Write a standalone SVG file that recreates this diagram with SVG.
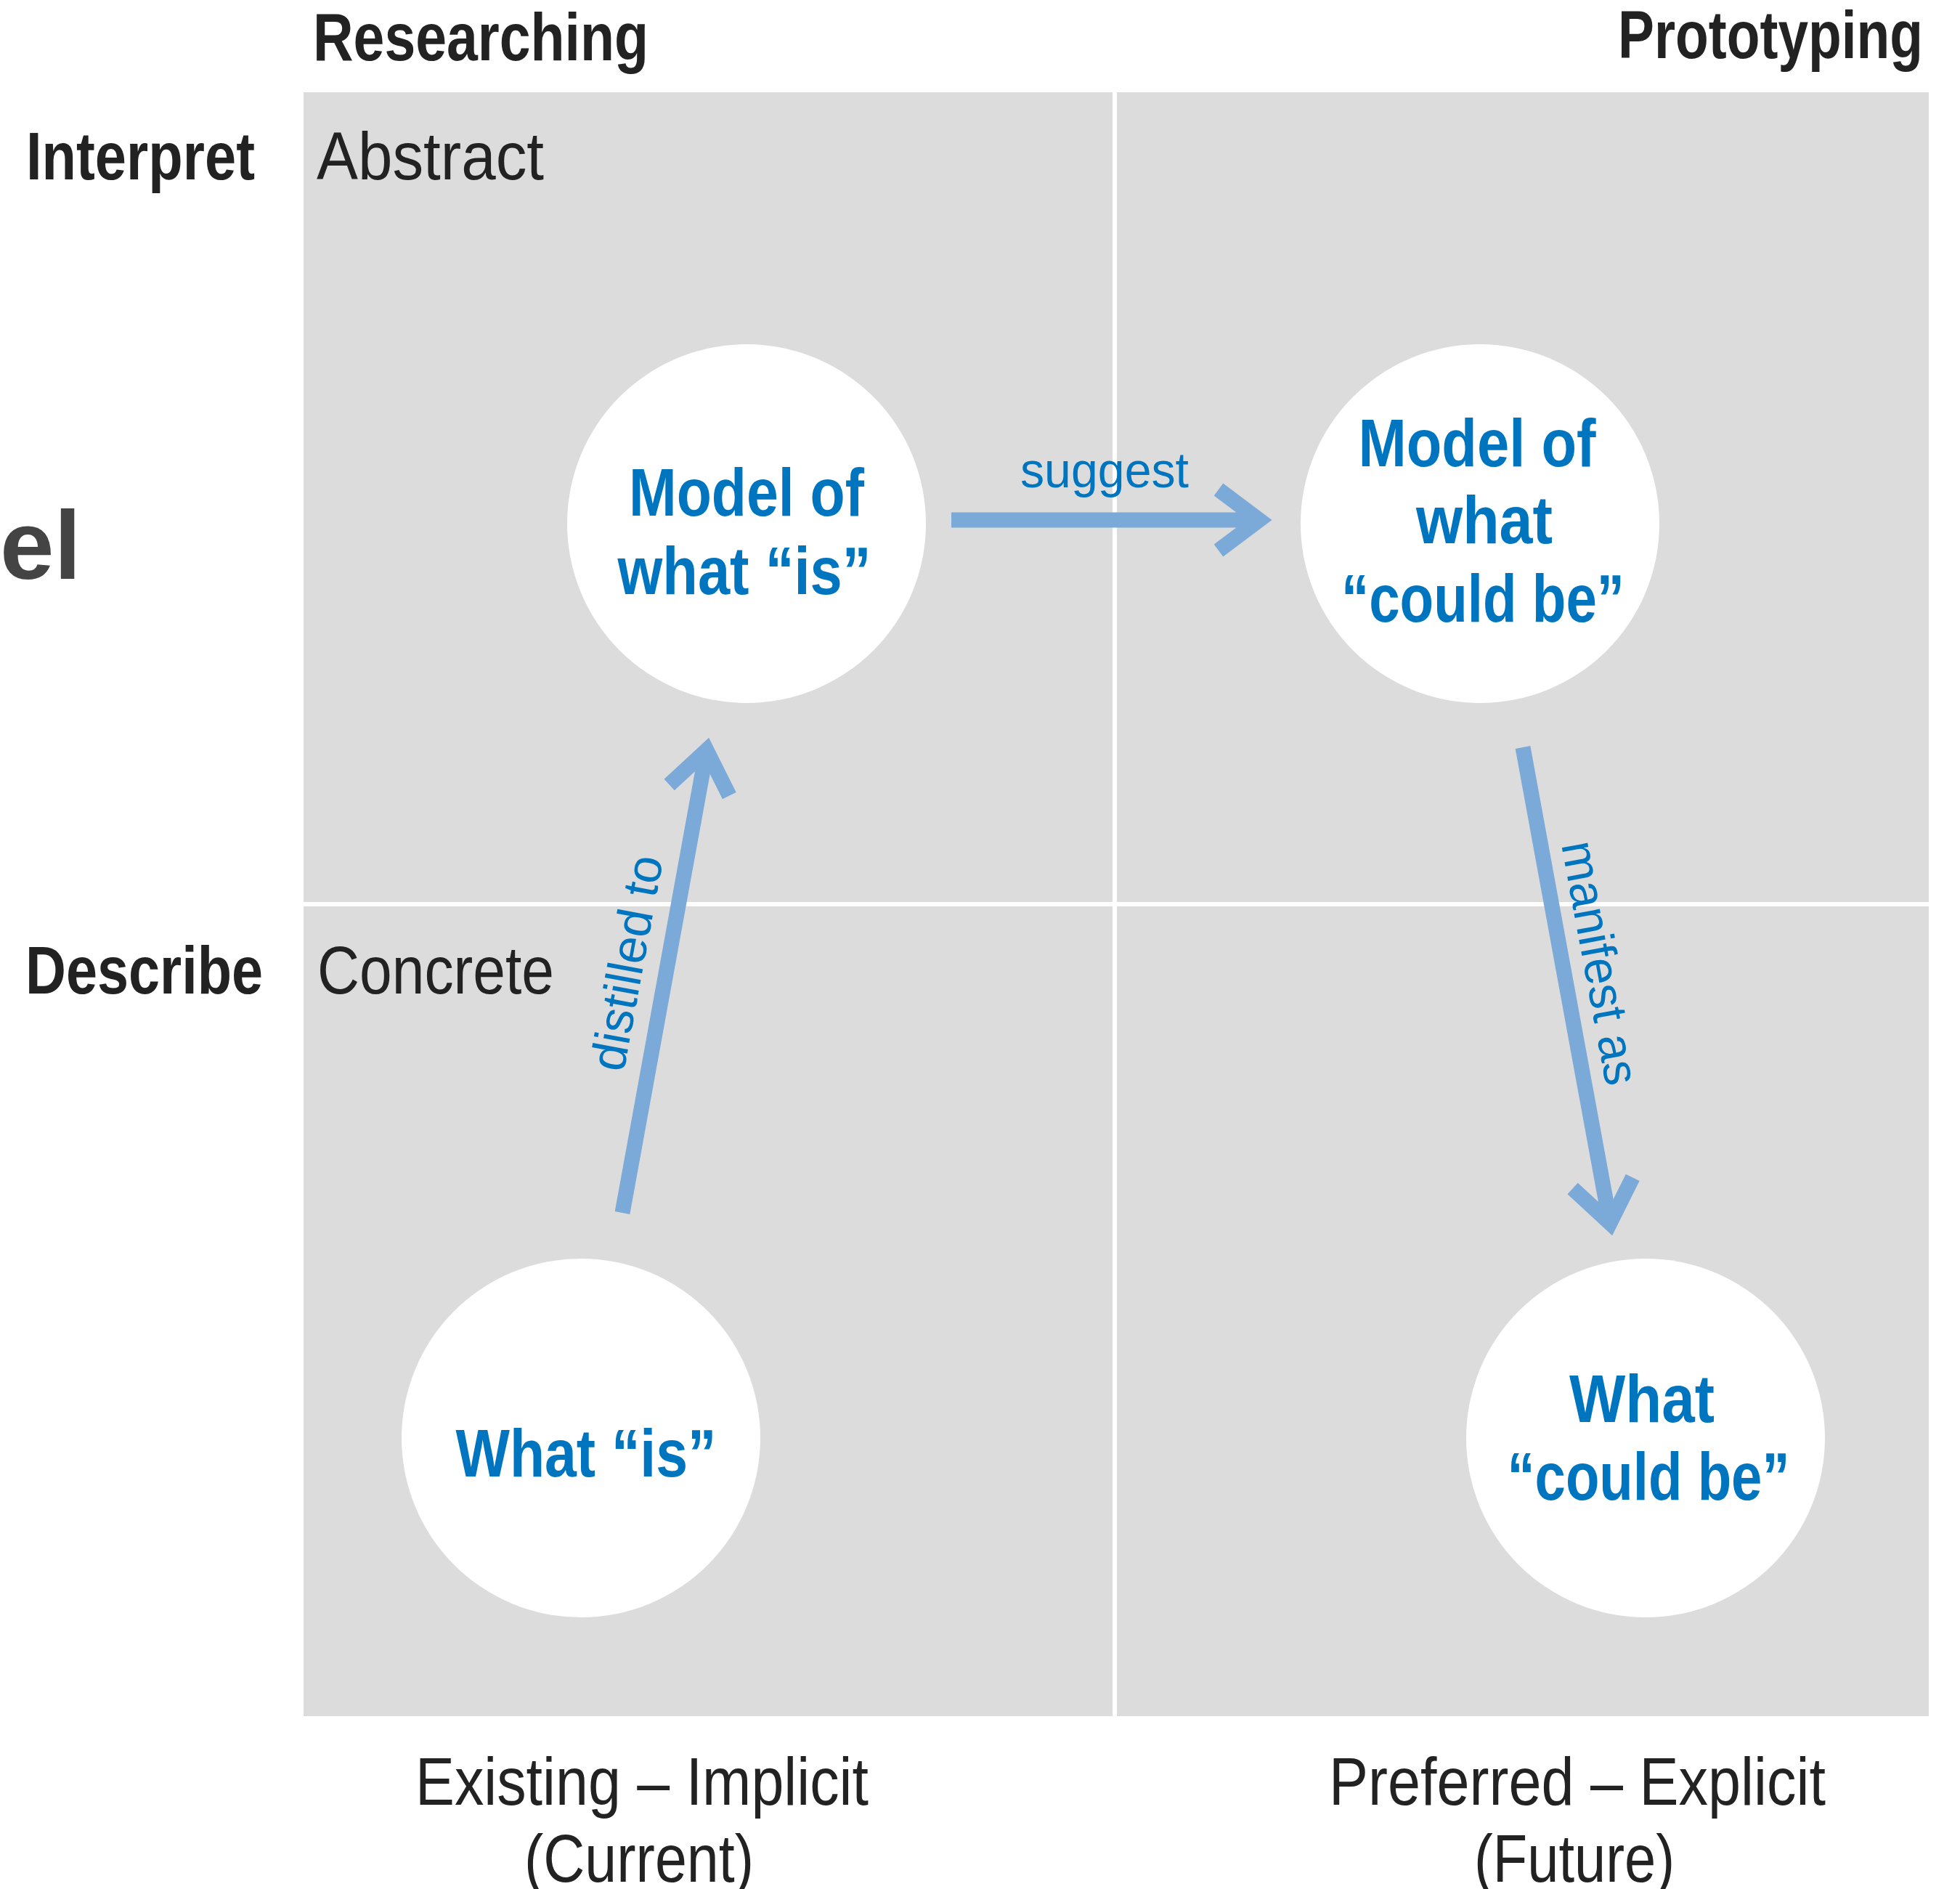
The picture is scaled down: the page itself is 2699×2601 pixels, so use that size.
<svg xmlns="http://www.w3.org/2000/svg" width="2699" height="2601" viewBox="0 0 2699 2601">
<style>
.hdr{font-family:"Liberation Sans",Arial,sans-serif;font-weight:bold;fill:#222;font-size:92px}
.reg{font-family:"Liberation Sans",Arial,sans-serif;fill:#222;font-size:92px}
.node{font-family:"Liberation Sans",Arial,sans-serif;font-weight:bold;fill:#0075BF;font-size:93px;text-anchor:middle}
.lbl{font-family:"Liberation Sans",Arial,sans-serif;fill:#0075BF;font-size:68px;text-anchor:middle}
.circ{fill:#ffffff}
.shaft{stroke:#7BA9D8;stroke-width:21;fill:none}
</style>
<defs>
<marker id="chev" markerUnits="userSpaceOnUse" orient="auto" refX="0" refY="0" markerWidth="200" markerHeight="200" viewBox="-100 -100 200 200" overflow="visible">
<polyline points="-56,-42 0,0 -56,42" fill="none" stroke="#7BA9D8" stroke-width="21" stroke-linejoin="miter" stroke-miterlimit="10"/>
</marker>
</defs>
<rect width="2699" height="2601" fill="#ffffff"/>
<g id="grid">
<rect x="418" y="127" width="2238" height="2236" fill="#DCDCDC"/>
<rect x="1532" y="127" width="6" height="2236" fill="#ffffff"/>
<rect x="418" y="1242" width="2238" height="6" fill="#ffffff"/>
</g>
<g id="labels">
<text class="hdr" x="431" y="83" textLength="462" lengthAdjust="spacingAndGlyphs">Researching</text>
<text class="hdr" x="2228" y="80" textLength="420" lengthAdjust="spacingAndGlyphs">Prototyping</text>
<text class="hdr" x="36" y="247" textLength="315" lengthAdjust="spacingAndGlyphs">Interpret</text>
<text class="reg" x="436" y="247" textLength="313" lengthAdjust="spacingAndGlyphs">Abstract</text>
<text class="hdr" x="35" y="1368" textLength="327" lengthAdjust="spacingAndGlyphs">Describe</text>
<text class="reg" x="437" y="1368" textLength="326" lengthAdjust="spacingAndGlyphs">Concrete</text>
<text class="reg" x="884" y="2485" text-anchor="middle" font-size="91" textLength="624" lengthAdjust="spacingAndGlyphs">Existing – Implicit</text>
<text class="reg" x="880" y="2591" text-anchor="middle" font-size="91" textLength="316" lengthAdjust="spacingAndGlyphs">(Current)</text>
<text class="reg" x="2172" y="2485" text-anchor="middle" font-size="91" textLength="684" lengthAdjust="spacingAndGlyphs">Preferred – Explicit</text>
<text class="reg" x="2168" y="2591" text-anchor="middle" font-size="91" textLength="276" lengthAdjust="spacingAndGlyphs">(Future)</text>
<text x="0" y="797" font-family="'Liberation Sans',Arial,sans-serif" font-weight="bold" font-size="134" fill="#444444">el</text>
</g>
<g id="connectors">
<line class="shaft" x1="1310" y1="716" x2="1734" y2="716" marker-end="url(#chev)"/>
<line class="shaft" x1="857" y1="1670" x2="973" y2="1033" marker-end="url(#chev)"/>
<line class="shaft" x1="2097" y1="1029" x2="2217" y2="1684" marker-end="url(#chev)"/>
<text class="lbl" x="1521" y="671" textLength="232" lengthAdjust="spacingAndGlyphs">suggest</text>
<text class="lbl" transform="translate(886,1330) rotate(-79.5)" x="0" y="0" textLength="300" lengthAdjust="spacingAndGlyphs">distilled to</text>
<text class="lbl" transform="translate(2181,1330) rotate(79.5)" x="0" y="0" textLength="340" lengthAdjust="spacingAndGlyphs">manifest as</text>
</g>
<g id="model-is">
<circle class="circ" cx="1028" cy="721" r="247"/>
<text class="node" x="1028" y="710" textLength="324" lengthAdjust="spacingAndGlyphs">Model of</text>
<text class="node" x="1025" y="818" textLength="349" lengthAdjust="spacingAndGlyphs">what “is”</text>
</g>
<g id="model-could-be">
<circle class="circ" cx="2038" cy="721" r="247"/>
<text class="node" x="2034" y="642" textLength="327" lengthAdjust="spacingAndGlyphs">Model of</text>
<text class="node" x="2044" y="748" textLength="188" lengthAdjust="spacingAndGlyphs">what</text>
<text class="node" x="2042" y="856" textLength="390" lengthAdjust="spacingAndGlyphs">“could be”</text>
</g>
<g id="what-is">
<circle class="circ" cx="800" cy="1980" r="247"/>
<text class="node" x="807" y="2033" textLength="359" lengthAdjust="spacingAndGlyphs">What “is”</text>
</g>
<g id="what-could-be">
<circle class="circ" cx="2266" cy="1980" r="247"/>
<text class="node" x="2261" y="1958" textLength="200" lengthAdjust="spacingAndGlyphs">What</text>
<text class="node" x="2270" y="2065" textLength="389" lengthAdjust="spacingAndGlyphs">“could be”</text>
</g>
</svg>
